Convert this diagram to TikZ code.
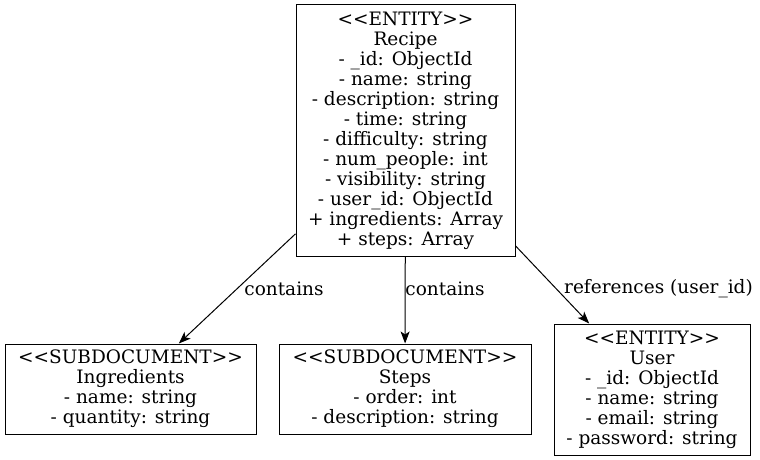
\documentclass[tikz,border=0pt]{standalone}
\usepackage{fontspec}
\newfontfamily\erfont{DejaVu Serif}
\usetikzlibrary{arrows.meta}
\begin{document}
\begin{tikzpicture}[x=1pt,y=-1pt,
  box/.style={draw,line width=1pt,align=center,inner sep=0pt,font=\erfont\fontsize{18.5}{20}\selectfont},
  rel/.style={line width=1pt,-{Stealth[length=12pt,width=9pt,inset=3pt]}},
  lbl/.style={font=\erfont\fontsize{18.5}{20}\selectfont}]
\useasboundingbox (0,0) rectangle (760,460);
\node[box,minimum width=219pt,minimum height=251pt] (recipe) at (405.5,130.5) {<<ENTITY>>\\Recipe\\- \_id: ObjectId\\- name: string\\- description: string\\- time: string\\- difficulty: string\\- num\_people: int\\- visibility: string\\- user\_id: ObjectId\\+ ingredients: Array\\+ steps: Array};
\node[box,minimum width=251pt,minimum height=90pt] (ingredients) at (130.5,389) {<<SUBDOCUMENT>>\\Ingredients\\- name: string\\- quantity: string};
\node[box,minimum width=252pt,minimum height=90pt] (steps) at (405,389) {<<SUBDOCUMENT>>\\Steps\\- order: int\\- description: string};
\node[box,minimum width=196pt,minimum height=131pt] (user) at (652,389.5) {<<ENTITY>>\\User\\- \_id: ObjectId\\- name: string\\- email: string\\- password: string};

\draw[rel] (recipe) -- (ingredients);
\draw[rel] (recipe) -- (steps);
\draw[rel] (recipe) -- (user);
\node[lbl] (l1) at (284,289) {contains};
\node[lbl] (l2) at (445,289) {contains};
\node[lbl] (l3) at (658.5,289) {references (user\_id)};
\end{tikzpicture}
\end{document}
